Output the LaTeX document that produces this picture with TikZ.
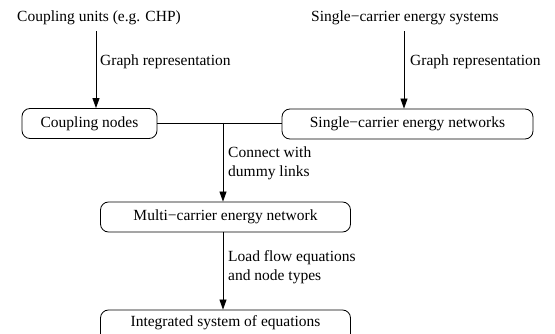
\documentclass[tikz,border=0pt]{standalone}
\usepackage{fontspec}
\setmainfont{Liberation Serif}
\usetikzlibrary{arrows.meta,calc}
\begin{document}
\begin{tikzpicture}[x=1pt,y=-1pt,
  box/.style={draw,line width=0.8pt,rounded corners=8pt,inner sep=0pt},
  txt/.style={inner sep=0pt,font=\fontsize{15.5}{19}\selectfont},
  lbl/.style={inner sep=0pt,anchor=west,align=left,font=\fontsize{15.5}{19}\selectfont},
  arr/.style={line width=0.8pt,-{Triangle[length=10pt,width=7pt]}},
  ln/.style={line width=0.8pt}]
\useasboundingbox (0,0) rectangle (555,334);
\clip (0,0) rectangle (555,334);
% top texts
\node[txt] (cu) at (99,18) {Coupling units (e.g. CHP)};
\node[txt] (ss) at (405,18) {Single−carrier energy systems};
% boxes
\node[box,minimum width=135pt,minimum height=30pt] (cn) at (89.5,123.5) {};
\node[txt] at (cn.center) {Coupling nodes};
\node[box,minimum width=251pt,minimum height=30pt] (sn) at (407.5,124) {};
\node[txt] at (sn.center) {Single−carrier energy networks};
\node[box,minimum width=250pt,minimum height=30pt] (mn) at (225.5,217) {};
\node[txt] at (mn.center) {Multi−carrier energy network};
\node[box,minimum width=250pt,minimum height=40pt] (is) at (225.5,330) {};
\node[txt] (ist) at (225.5,323) {Integrated system of equations};
% coordinates for arrow x positions
\coordinate (a1) at (96,0);
\coordinate (a2) at (404,0);
\coordinate (a3) at (223,123);
% arrows
\draw[arr] ($(cu.south -| a1)+(0,6)$) -- (cn.north -| a1);
\draw[arr] ($(ss.south -| a2)+(0,6)$) -- (sn.north -| a2);
\draw[ln] (cn.east |- a3) -- (sn.west |- a3);
\draw[arr] (a3) -- (mn.north -| a3);
\draw[arr] (mn.south -| a3) -- (is.north -| a3);
% labels
\node[lbl] (l1) at (100,62) {Graph representation};
\node[lbl] (l2) at (410,62) {Graph representation};
\node[lbl] (l3) at (228,163) {Connect with\\dummy links};
\node[lbl] (l4) at (228,267.5) {Load flow equations\\and node types};
\end{tikzpicture}
\end{document}
